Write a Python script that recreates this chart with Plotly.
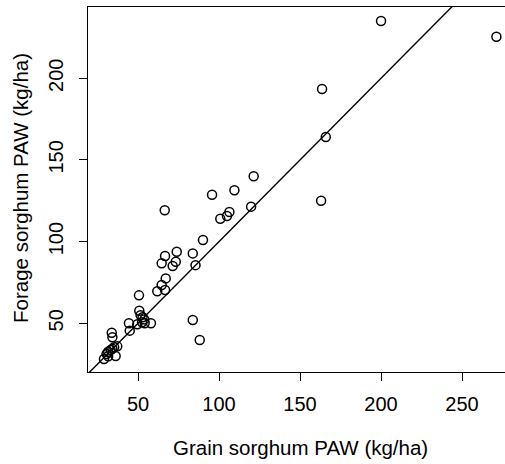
import plotly.graph_objects as go

grain_paw = [29.0, 30.6, 31.6, 31.6, 33.1, 34.2, 35.3, 37.2, 36.2, 33.8, 34.2,
             44.4, 44.9, 49.6, 50.6, 50.8, 51.6, 52.8, 53.9, 52.5, 54.1, 58.0,
             61.9, 64.6, 67.1, 66.7, 64.6, 66.7, 73.9, 71.4, 73.3, 83.8, 85.5,
             83.8, 88.1, 66.5, 90.1, 95.7, 100.8, 104.9, 106.4, 109.5, 119.8,
             121.4, 163.0, 165.9, 163.6, 200.0, 271.2]
forage_paw = [28.2, 31.2, 32.6, 29.8, 33.7, 34.5, 35.3, 35.9, 30.0, 44.2, 41.4,
              50.0, 45.5, 49.4, 67.1, 57.7, 54.9, 53.7, 52.4, 50.6, 50.0, 50.0,
              69.6, 73.4, 77.5, 70.4, 86.7, 91.2, 93.8, 85.1, 87.7, 92.8, 85.6,
              52.0, 39.8, 119.2, 101.0, 128.7, 114.0, 115.7, 118.1, 131.4, 121.4,
              140.0, 125.0, 164.0, 193.4, 235.0, 225.4]

identity_line = [0, 300]
x_ticks = [50, 100, 150, 200, 250]
y_ticks = [50, 100, 150, 200]

font = "Liberation Sans, Arial, Helvetica, sans-serif"

fig = go.Figure()
fig.add_trace(go.Scatter(x=identity_line, y=identity_line, mode="lines",
                         line=dict(color="black", width=1.4), hoverinfo="skip",
                         showlegend=False))
fig.add_trace(go.Scatter(x=grain_paw, y=forage_paw, mode="markers",
                         marker=dict(symbol="circle-open", size=9,
                                     color="black", line=dict(width=1.5)),
                         showlegend=False, cliponaxis=False))

fig.update_layout(
    width=505, height=464,
    margin=dict(l=88, r=0, t=7, b=92, autoexpand=False),
    paper_bgcolor="white", plot_bgcolor="white",
    font=dict(family=font, size=20, color="black"),
    xaxis=dict(range=[19.14, 276.5], tickvals=x_ticks, ticks="outside",
               ticklen=8, tickwidth=1.3, tickcolor="black",
               showline=True, linecolor="black", linewidth=1.4, mirror=True,
               showgrid=False, zeroline=False, ticklabelstandoff=6,
               automargin=False, tickfont=dict(size=20)),
    yaxis=dict(range=[20.2, 243.6], tickvals=y_ticks, ticks="outside",
               ticklen=8, tickwidth=1.3, tickcolor="black",
               showline=True, linecolor="black", linewidth=1.4, mirror=False,
               showgrid=False, zeroline=False, tickangle=-90,
               ticklabelstandoff=8, automargin=False, tickfont=dict(size=20)),
    annotations=[
        dict(text="Grain sorghum PAW (kg/ha)", xref="paper", yref="paper",
             x=(300 - 88) / 417, y=-(447 - 372) / 365, showarrow=False,
             xanchor="center", yanchor="middle", font=dict(size=20.5)),
        dict(text="Forage sorghum PAW (kg/ha)", xref="paper", yref="paper",
             x=-(88 - 20) / 417, y=(372 - 188) / 365, showarrow=False,
             textangle=-90, xanchor="center", yanchor="middle",
             font=dict(size=20.5)),
    ],
)

fig.write_html(
    "out.html",
    config={"displayModeBar": False},
    post_script="document.body.style.margin='0px';"
                "document.body.style.padding='0px';"
                "document.body.style.overflow='hidden';",
)
